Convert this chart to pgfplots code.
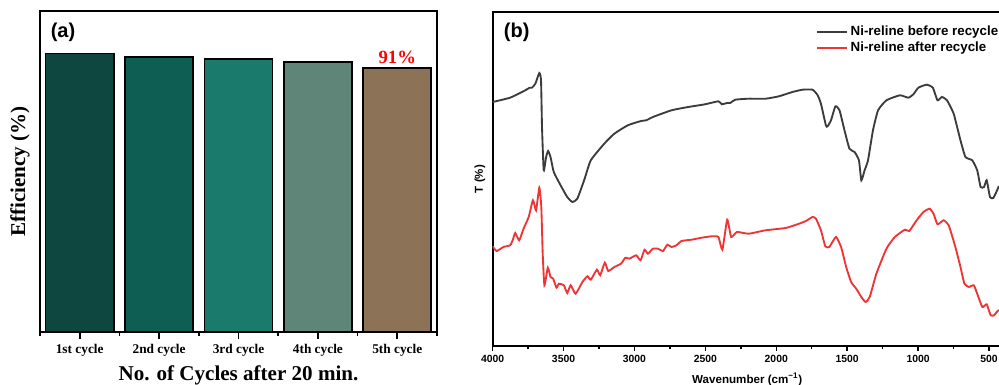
\documentclass[border=0pt]{standalone}
\usepackage{pgfplots}
\pgfplotsset{compat=1.18}
\usepackage{fontspec}
\setmainfont{Liberation Serif}
\setsansfont{Liberation Sans}
\definecolor{cA}{HTML}{0E4640}
\definecolor{cB}{HTML}{0F5E54}
\definecolor{cC}{HTML}{1A7A6C}
\definecolor{cD}{HTML}{5E8577}
\definecolor{cE}{HTML}{8C7358}
\definecolor{lblack}{HTML}{3C3C3C}
\definecolor{lred}{HTML}{EE3535}
\pgfplotsset{shortline/.style={legend image code/.code={\draw[##1] (0pt,0pt) -- (22.5pt,0pt);}}}
\begin{document}
\begin{tikzpicture}
\useasboundingbox (0,0) rectangle (749.25pt,288.75pt);
% ---------------- panel (a)
\begin{axis}[
  at={(30pt,39.75pt)}, anchor=south west, scale only axis,
  width=297.75pt, height=240.75pt,
  xmin=0.5, xmax=5.5, ymin=0, ymax=110.7,
  ytick=\empty,
  xtick={1,2,3,4,5},
  xticklabels={1st cycle,2nd cycle,3rd cycle,4th cycle,5th cycle},
  minor xtick={0.5,1.5,2.5,3.5,4.5,5.5},
  tick align=outside, major tick length=5pt, minor tick length=3pt,
  every tick/.style={black, line width=1.2pt},
  axis line style={line width=1.5pt},
  xtick pos=bottom,
  xticklabel style={font=\bfseries\fontsize{10}{12}\selectfont, yshift=-1pt},
  xlabel={No. of Cycles after 20 min.},
  xlabel style={font=\bfseries\fontsize{15.8}{18}\selectfont, at={(axis description cs:0.5,0)}, anchor=center, yshift=-32.5pt},
  ylabel={Efficiency (\%)},
  ylabel style={font=\bfseries\fontsize{15.8}{18}\selectfont, at={(axis description cs:-0.0504,0.5)}, anchor=center},
]
\addplot[ybar, bar shift=0pt, bar width=51pt, fill=cA, draw=black, line width=1.2pt] coordinates {(1,96.0)};
\addplot[ybar, bar shift=0pt, bar width=51pt, fill=cB, draw=black, line width=1.2pt] coordinates {(2,94.8)};
\addplot[ybar, bar shift=0pt, bar width=51pt, fill=cC, draw=black, line width=1.2pt] coordinates {(3,94.1)};
\addplot[ybar, bar shift=0pt, bar width=51pt, fill=cD, draw=black, line width=1.2pt] coordinates {(4,93.1)};
\addplot[ybar, bar shift=0pt, bar width=51pt, fill=cE, draw=black, line width=1.2pt] coordinates {(5,91.0)};
\node[font=\bfseries\fontsize{14}{16}\selectfont, text=red, anchor=south, inner sep=1pt] at (axis cs:5,92) {91\%};
\node[font=\sffamily\bfseries\fontsize{15}{18}\selectfont, anchor=center] at ([xshift=17.25pt,yshift=-15.75pt]rel axis cs:0,1) {(a)};
\end{axis}
% ---------------- panel (b)
\begin{axis}[
  at={(369.5pt,29.25pt)}, anchor=south west, scale only axis,
  width=381.8pt, height=250.5pt,
  x dir=reverse, xmin=410, xmax=4000, ymin=0, ymax=334,
  ytick=\empty,
  xtick={500,1000,1500,2000,2500,3000,3500,4000},
  minor xtick={750,1250,1750,2250,2750,3250,3750},
  xtick pos=bottom,
  tick align=outside, major tick length=3.5pt, minor tick length=2.5pt,
  every tick/.style={black, line width=1.1pt},
  axis line style={line width=1.5pt},
  /pgf/number format/assume math mode=true,
  /pgf/number format/set thousands separator={},
  xticklabel style={font=\sffamily\bfseries\fontsize{7.8}{9}\selectfont},
  xlabel={Wavenumber (cm\textsuperscript{−1})},
  xlabel style={font=\sffamily\bfseries\fontsize{8.7}{10}\selectfont, at={(axis description cs:0.5,0)}, anchor=center, yshift=-25.25pt},
  ylabel={T (\%)},
  ylabel style={font=\sffamily\bfseries\fontsize{8.6}{10}\selectfont, at={(axis description cs:-0.025,0.5)}, anchor=center},
  legend style={at={(axis description cs:0.635,0.967)}, anchor=north west, draw=none, fill=none,
    font=\sffamily\bfseries\fontsize{10}{11}\selectfont, row sep=-0.8pt, inner sep=0pt},
  legend cell align=left,
  shortline,
]
\addplot[lblack, line width=1.4pt, smooth, tension=0.3] coordinates {
(4000,244) (3877,248.3) (3770,255.7) (3739,258.3) (3723,258.3) (3699,262.3) (3671,273) (3659,265.7)
(3652,219) (3640,175.7) (3623,189) (3609,195) (3592,189) (3569,174) (3521,160.7) (3474,149) (3438,144)
(3403,147.3) (3355,165.7) (3308,185.7) (3213,202.3) (3142,212.3) (3047,220.7) (2953,225) (2917,225.7)
(2870,229) (2739,235.7) (2621,239) (2502,241.7) (2408,244.7) (2384,241.7) (2348,243) (2325,243)
(2289,246.3) (2194,247.3) (2076,247.3) (1981,249.7) (1886,254) (1815,256.3) (1744,256.3) (1708,250.7)
(1685,242.3) (1650,220.7) (1638,219.7) (1614,225.7) (1583,239.7) (1554,235.7) (1519,215.7) (1484,197.3)
(1448,194) (1417,185.7) (1400,165.7) (1377,175.7) (1353,185.7) (1318,215.7) (1282,235.7) (1223,245.7)
(1128,250.7) (1069,248.3) (1033,251.7) (998,258.3) (939,261.3) (896,258.3) (863,245.7) (832,249)
(796,245.7) (749,232.3) (701,205.7) (666,189) (618,185.7) (583,175.7) (559,159) (535,159) (516,165.7)
(493,149) (470,148) (445,155) (430,160)
};
\addlegendentry{Ni-reline before recycle}
\addplot[lred, line width=1.4pt, smooth, tension=0.3] coordinates {
(4000,99.7) (3972,95) (3924,99) (3877,100.7) (3858,106) (3841,113) (3813,105.7) (3782,117.3) (3746,129)
(3716,145.7) (3694,135.7) (3671,158.3) (3657,139) (3647,92) (3635,60.7) (3611,78.3) (3592,69) (3573,67.3)
(3550,58.3) (3533,62.3) (3498,60.7) (3474,53) (3450,60.7) (3415,52.3) (3367,64) (3332,69.7) (3308,66.3)
(3265,76.3) (3242,70.7) (3209,83.3) (3185,75) (3142,79) (3095,82.3) (3064,88.3) (3036,87.3) (2988,90.7)
(2957,85.7) (2929,96.3) (2905,92.3) (2870,97.3) (2834,97.3) (2799,95) (2768,101.3) (2739,99) (2704,100.7)
(2668,105) (2597,106.3) (2526,108.3) (2455,109.7) (2408,109) (2380,96.3) (2346,126.3) (2318,109) (2277,114)
(2194,112.3) (2076,115.7) (1934,118) (1839,122.3) (1791,125) (1744,129) (1720,127.3) (1685,115.7)
(1654,99.7) (1626,99) (1579,109) (1543,99) (1507,79) (1472,64) (1436,57.3) (1400,49) (1370,44) (1341,49)
(1294,72.3) (1223,97.3) (1164,109) (1093,116.3) (1062,115) (1010,125.7) (962,134) (919,137.3) (891,132.3)
(863,121.7) (820,125.7) (784,120.7) (737,99) (701,79) (673,62.3) (642,59) (607,60.7) (583,52.3) (547,39)
(516,41.7) (488,30.7) (464,30.7) (445,34) (430,36)
};
\addlegendentry{Ni-reline after recycle}
\node[font=\sffamily\bfseries\fontsize{15}{18}\selectfont, anchor=center] at ([xshift=18pt,yshift=-15pt]rel axis cs:0,1) {(b)};
\end{axis}
\end{tikzpicture}
\end{document}
